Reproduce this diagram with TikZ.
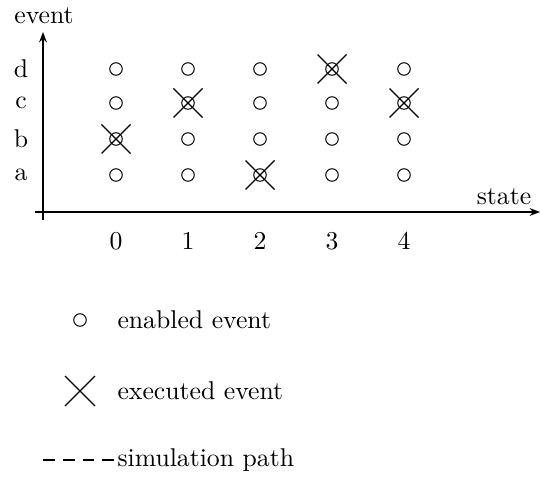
\documentclass[tikz,border=0pt]{standalone}
\usetikzlibrary{arrows.meta}
\begin{document}
\begin{tikzpicture}[x=0.389pt,y=-0.389pt,
  axis/.style={line width=0.7pt,-{Stealth[length=4pt,width=3pt]}},
  enab/.style={circle,draw,line width=0.4pt,minimum size=12.5*0.389pt,inner sep=0pt},
  xline/.style={line width=0.5pt},
  lbl/.style={inner sep=0pt},
  dpath/.style={line width=0.65pt,dash pattern=on 4.6pt off 3.1pt}]
\useasboundingbox (0,0) rectangle (540,478);
% axes
\coordinate (xs) at (35,212);
\coordinate (xe) at (540,212);
\coordinate (ys) at (43,220);
\coordinate (ye) at (43,32);
\draw[axis] (xs) -- (xe);
\draw[axis] (ys) -- (ye);
\node[lbl] (evl) at (44,16) {event};
\node[lbl] (stl) at (504,197) {state};
% row labels
\foreach \r/\y in {d/69,c/103,b/139,a/175}{
  \node[lbl] (row\r) at (21,\y) {\r};
}
% column labels and enabled events
\foreach \i/\x in {0/116,1/188,2/260,3/332,4/404}{
  \node[lbl] (col\i) at (\x,241) {\i};
  \foreach \r/\y in {d/69,c/103,b/139,a/175}{
    \node[enab] (e\i\r) at (\x,\y) {};
  }
}
% executed events
\foreach \n in {e0b,e1c,e2a,e3d,e4c}{
  \draw[xline] (\n.center) ++(-14.5,-14.5) -- ++(29,29);
  \draw[xline] (\n.center) ++(-14.5,14.5) -- ++(29,-29);
}
% legend
\node[enab] (lgc) at (80,320) {};
\node[lbl,anchor=west] (lgct) at (117,320) {enabled event};
\coordinate (lgx) at (80,391);
\draw[xline] (lgx) ++(-15,-15) -- ++(30,30);
\draw[xline] (lgx) ++(-15,15) -- ++(30,-30);
\node[lbl,anchor=west] (lgxt) at (117,391) {executed event};
\node[lbl,anchor=west] (lgpt) at (117,460) {simulation path};
\coordinate (lgp) at (43,460);
\draw[dpath] (lgp) -- (lgpt.west);
\end{tikzpicture}
\end{document}
